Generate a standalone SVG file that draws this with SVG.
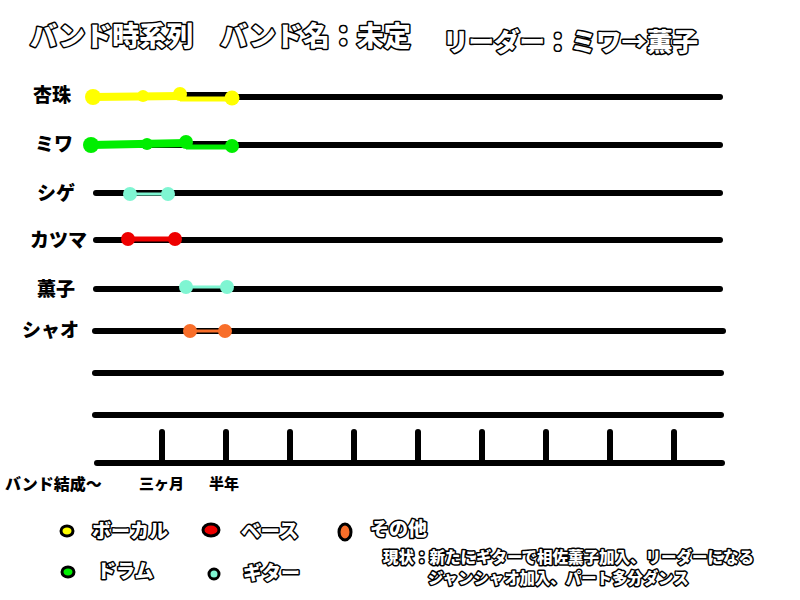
<svg xmlns="http://www.w3.org/2000/svg" width="800" height="600" viewBox="0 0 800 600">
<style>
.t{font-family:"Noto Sans CJK JP","Noto Sans",sans-serif;font-weight:900;}
.w{fill:#fff;stroke:#000;stroke-width:3;paint-order:stroke;stroke-linejoin:round;}
.b{fill:#000;stroke:#fff;stroke-width:3;paint-order:stroke;stroke-linejoin:round;}
.ln{stroke:#000;stroke-width:6;stroke-linecap:round;fill:none;}
.ld{stroke:#000;stroke-width:3;}
</style>
<rect width="800" height="600" fill="#fff"/>
<g id="title">
<text class="t w" x="30" y="46" font-size="27">バンド時系列　バンド名：未定</text>
<text class="t w" x="443" y="51" font-size="25.5">リーダー：ミワ→薫子</text>
</g>
<g id="connectors">
<line class="ln" x1="93" y1="97" x2="720" y2="97"/>
<line class="ln" x1="91" y1="145" x2="720" y2="145"/>
<line class="ln" x1="96" y1="193" x2="720" y2="193"/>
<line class="ln" x1="96" y1="240" x2="720" y2="240"/>
<line class="ln" x1="96" y1="289" x2="720" y2="289"/>
<line class="ln" x1="95" y1="331" x2="723" y2="331"/>
<line class="ln" x1="95" y1="373" x2="721" y2="373"/>
<line class="ln" x1="95" y1="415" x2="721" y2="415"/>
<line class="ln" x1="97" y1="463" x2="722" y2="463"/>
<g class="ln">
<line x1="162" y1="432" x2="162" y2="463"/>
<line x1="226" y1="432" x2="226" y2="463"/>
<line x1="290" y1="432" x2="290" y2="463"/>
<line x1="354" y1="432" x2="354" y2="463"/>
<line x1="418" y1="432" x2="418" y2="463"/>
<line x1="482" y1="432" x2="482" y2="463"/>
<line x1="546" y1="432" x2="546" y2="463"/>
<line x1="610" y1="432" x2="610" y2="463"/>
<line x1="674" y1="432" x2="674" y2="463"/>
</g>
</g>
<g id="anju">
<text class="t b" x="33" y="102" font-size="19">杏珠</text>
<rect x="180" y="92" width="52" height="4" fill="#000"/>
<line x1="93" y1="97" x2="180" y2="96" stroke="#ffff00" stroke-width="8"/>
<line x1="180" y1="99" x2="232" y2="99" stroke="#ffff00" stroke-width="5"/>
<circle cx="93" cy="97" r="8" fill="#ffff00"/>
<circle cx="143" cy="96" r="6" fill="#ffff00"/>
<circle cx="180" cy="94" r="7" fill="#ffff00"/>
<circle cx="232" cy="98" r="7.5" fill="#ffff00"/>
</g>
<g id="miwa">
<text class="t b" x="35" y="151" font-size="19">ミワ</text>
<rect x="186" y="141" width="46" height="4" fill="#000"/>
<line x1="91" y1="145" x2="186" y2="143" stroke="#00ee00" stroke-width="8"/>
<line x1="186" y1="147" x2="232" y2="147" stroke="#00ee00" stroke-width="5"/>
<circle cx="91" cy="145" r="8" fill="#00ee00"/>
<circle cx="147" cy="144" r="6" fill="#00ee00"/>
<circle cx="186" cy="142" r="7" fill="#00ee00"/>
<circle cx="232" cy="146" r="7" fill="#00ee00"/>
</g>
<g id="shige">
<text class="t b" x="37" y="200" font-size="19">シゲ</text>
<line x1="130" y1="194" x2="168" y2="194" stroke="#7ff5d2" stroke-width="3"/>
<circle cx="130" cy="194" r="7" fill="#7ff5d2"/>
<circle cx="168" cy="194" r="7" fill="#7ff5d2"/>
</g>
<g id="katsuma">
<text class="t b" x="30" y="247" font-size="19">カツマ</text>
<line x1="128" y1="239" x2="175" y2="239" stroke="#ee0000" stroke-width="5"/>
<circle cx="128" cy="239" r="7" fill="#ee0000"/>
<circle cx="175" cy="239" r="7" fill="#ee0000"/>
</g>
<g id="kaoruko">
<text class="t b" x="37" y="296" font-size="19">薫子</text>
<line x1="186" y1="287" x2="227" y2="287" stroke="#7ff5d2" stroke-width="3"/>
<circle cx="186" cy="287" r="7" fill="#7ff5d2"/>
<circle cx="227" cy="287" r="7" fill="#7ff5d2"/>
</g>
<g id="shao">
<text class="t b" x="22" y="337" font-size="19">シャオ</text>
<line x1="190" y1="331" x2="225" y2="331" stroke="#f86e2a" stroke-width="3"/>
<circle cx="190" cy="331" r="7" fill="#f86e2a"/>
<circle cx="225" cy="331" r="7" fill="#f86e2a"/>
</g>
<g id="axis-labels">
<text class="t b" x="5" y="490" font-size="16">バンド結成～</text>
<text class="t b" x="139" y="489" font-size="15">三ヶ月</text>
<text class="t b" x="209" y="489" font-size="15">半年</text>
</g>
<g id="legend">
<ellipse class="ld" cx="67" cy="531" rx="6" ry="5" fill="#ffff00"/>
<text class="t w" x="92" y="538" font-size="19">ボーカル</text>
<ellipse class="ld" cx="211" cy="530" rx="8" ry="6" fill="#ee0000"/>
<text class="t w" x="241" y="538" font-size="19.5">ベース</text>
<ellipse class="ld" cx="345" cy="532" rx="6" ry="8" fill="#f86e2a"/>
<text class="t w" x="370" y="536" font-size="19">その他</text>
<ellipse class="ld" cx="68" cy="572" rx="6" ry="5" fill="#00ee00"/>
<text class="t w" x="97" y="578" font-size="19">ドラム</text>
<ellipse class="ld" cx="214" cy="574" rx="5" ry="5" fill="#7ff5d2"/>
<text class="t w" x="243" y="580" font-size="19">ギター</text>
</g>
<g id="status">
<text class="t w" x="383" y="563" font-size="15.5">現状：新たにギターで相佐薫子加入、リーダーになる</text>
<text class="t w" x="428" y="584" font-size="15.4">ジャンシャオ加入、パート多分ダンス</text>
</g>
</svg>
